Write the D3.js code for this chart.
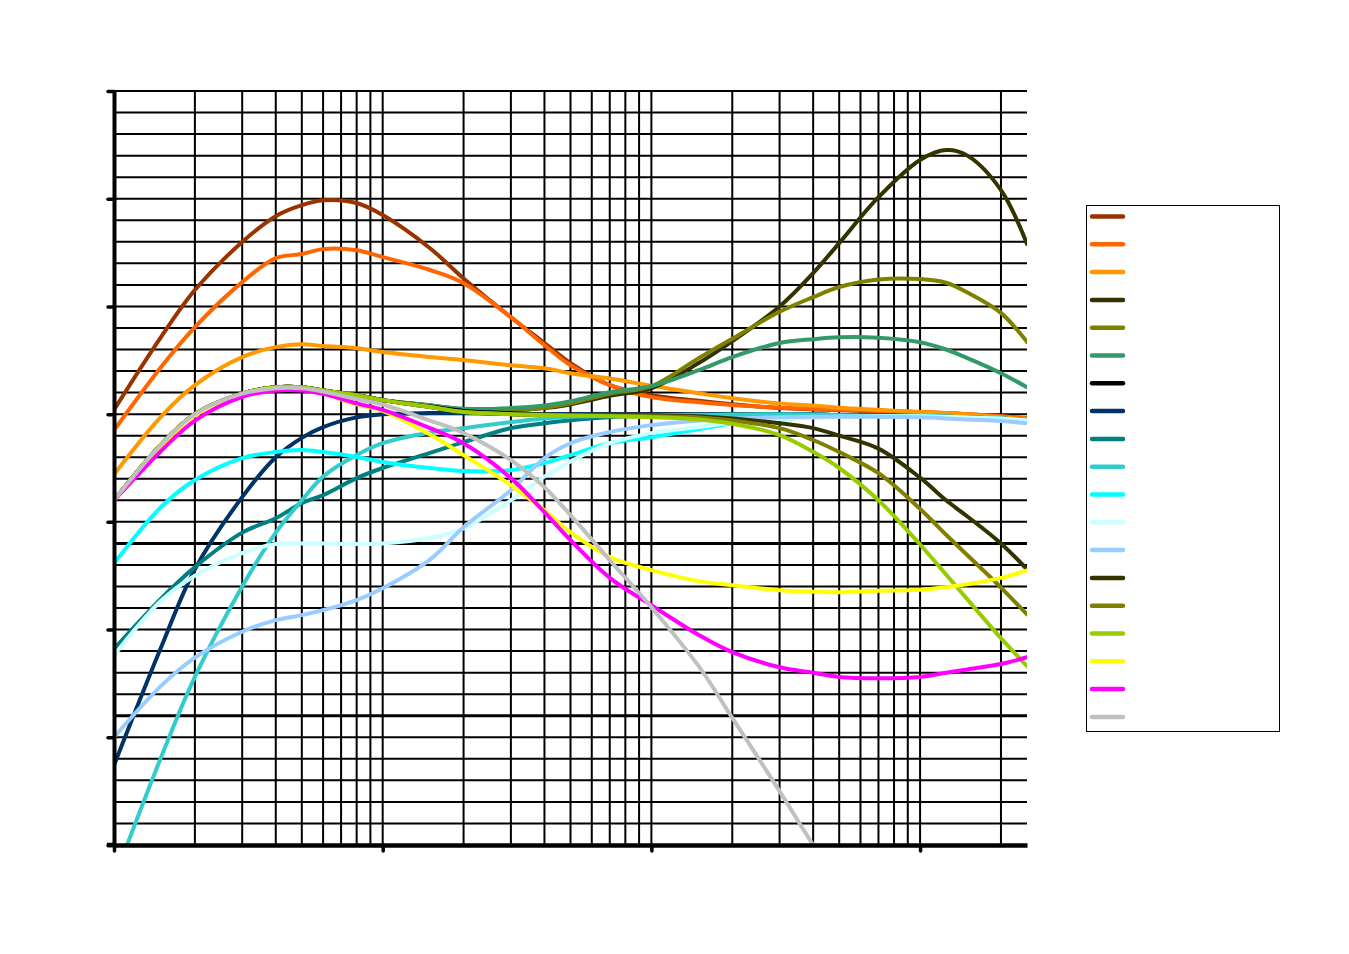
<!DOCTYPE html>
<html>
<head>
<meta charset="utf-8">
<script src="https://cdn.jsdelivr.net/npm/d3@7"></script>
<style>
  html, body { margin: 0; padding: 0; background: #fff; }
  svg { display: block; }
</style>
</head>
<body>
<script>
// ---- DATA (frequency in Hz, level in dB) ----
const freqs = [10, 15, 20, 30, 40, 50, 60, 80, 100, 150, 200, 300, 400, 500, 700, 1000, 1500, 2000, 3000, 4000, 5000, 7000, 10000, 12500, 15000, 20000, 25000];

const bassBoostMax  = [0.2, 3.6, 5.76, 7.99, 9.19, 9.7, 9.93, 9.8, 9.24, 7.7, 6.3, 4.5, 3.3, 2.37, 1.35, 0.88, 0.62, 0.46, 0.28, 0.22, 0.18, 0.14, 0.09, 0.05, 0.0, -0.1, -0.19];
const bassBoostMid  = [-0.75, 2.2, 4.04, 6.13, 7.24, 7.43, 7.66, 7.61, 7.29, 6.69, 6.08, 4.5, 3.2, 2.27, 1.35, 0.79, 0.55, 0.42, 0.3, 0.24, 0.2, 0.15, 0.1, 0.05, 0.0, -0.1, -0.19];
const bassBoostLow  = [-2.8, -0.1, 1.35, 2.65, 3.11, 3.25, 3.16, 3.06, 2.88, 2.65, 2.51, 2.27, 2.13, 1.9, 1.65, 1.32, 0.97, 0.74, 0.5, 0.4, 0.3, 0.2, 0.1, 0.05, -0.02, -0.15, -0.25];
const trebleBoostMax = [-4.0, -1.4, 0.0, 0.95, 1.25, 1.25, 1.1, 0.88, 0.65, 0.4, 0.22, 0.18, 0.28, 0.45, 0.85, 1.2, 2.37, 3.39, 5.0, 6.55, 7.94, 10.07, 11.8, 12.26, 12.0, 10.4, 7.9];
const trebleBoostMid = [-4.0, -1.4, 0.0, 0.95, 1.25, 1.25, 1.1, 0.88, 0.65, 0.4, 0.22, 0.18, 0.3, 0.5, 0.95, 1.3, 2.6, 3.5, 4.75, 5.43, 5.9, 6.25, 6.27, 6.1, 5.65, 4.7, 3.35];
const trebleBoostLow = [-4.0, -1.4, 0.0, 0.95, 1.25, 1.25, 1.1, 0.88, 0.65, 0.4, 0.25, 0.28, 0.4, 0.6, 1.02, 1.3, 2.04, 2.65, 3.3, 3.48, 3.57, 3.55, 3.34, 3.0, 2.6, 1.9, 1.25];
const flatSetting   = [-4.0, -1.4, 0.0, 0.95, 1.25, 1.25, 1.1, 0.88, 0.65, 0.35, 0.15, 0.05, 0.0, 0.0, 0.0, 0.0, 0.0, 0.0, 0.0, -0.02, -0.05, -0.08, -0.1, -0.12, -0.15, -0.2, -0.3];
const bassCutMax    = [-16.3, -10.8, -7.2, -3.85, -2.0, -1.1, -0.6, -0.15, 0.0, 0.05, 0.05, 0.02, 0.0, 0.0, 0.0, 0.0, 0.0, 0.0, 0.0, -0.02, -0.05, -0.08, -0.1, -0.12, -0.15, -0.2, -0.3];
const bassCutMid    = [-10.9, -8.55, -7.1, -5.5, -4.83, -4.13, -3.76, -2.97, -2.5, -1.8, -1.3, -0.65, -0.42, -0.28, -0.14, -0.08, -0.05, -0.03, 0.0, -0.02, -0.05, -0.08, -0.1, -0.12, -0.15, -0.2, -0.3];
const bassCutSteep  = [-21.6, -15.9, -12.2, -8.0, -5.5, -4.0, -2.9, -1.9, -1.35, -0.85, -0.65, -0.37, -0.2, -0.12, -0.08, -0.05, -0.03, -0.02, 0.0, -0.02, -0.05, -0.08, -0.1, -0.12, -0.15, -0.2, -0.3];
const midCutLow     = [-6.93, -4.3, -3.06, -2.04, -1.76, -1.67, -1.76, -1.99, -2.22, -2.5, -2.64, -2.6, -2.27, -1.9, -1.35, -1.07, -0.7, -0.42, -0.22, -0.15, -0.12, -0.1, -0.1, -0.12, -0.15, -0.2, -0.3];
const midCutMid     = [-11.2, -8.65, -7.5, -6.45, -6.03, -6.0, -6.0, -6.03, -6.0, -5.75, -5.3, -4.0, -2.9, -2.2, -1.35, -0.88, -0.6, -0.4, -0.22, -0.15, -0.12, -0.1, -0.1, -0.12, -0.15, -0.2, -0.3];
const midCutHigh    = [-15.0, -12.6, -11.3, -10.1, -9.56, -9.33, -9.1, -8.63, -8.08, -6.75, -5.25, -3.53, -2.04, -1.35, -0.83, -0.51, -0.3, -0.2, -0.15, -0.12, -0.12, -0.12, -0.15, -0.2, -0.25, -0.32, -0.42];
const trebleCutMax  = [-4.0, -1.4, 0.0, 0.95, 1.25, 1.25, 1.1, 0.88, 0.65, 0.33, 0.1, 0.0, -0.03, -0.05, -0.05, -0.05, -0.1, -0.2, -0.42, -0.65, -1.0, -1.6, -2.95, -4.0, -4.75, -6.0, -7.2];
const trebleCutMid  = [-4.0, -1.4, 0.0, 0.95, 1.25, 1.25, 1.1, 0.88, 0.65, 0.33, 0.1, 0.0, -0.03, -0.05, -0.07, -0.1, -0.15, -0.3, -0.65, -1.2, -1.76, -2.74, -4.4, -5.6, -6.55, -8.05, -9.3];
const trebleCutLow  = [-4.0, -1.4, 0.0, 0.95, 1.25, 1.25, 1.1, 0.88, 0.65, 0.33, 0.1, 0.0, -0.05, -0.07, -0.1, -0.14, -0.25, -0.45, -0.97, -1.75, -2.5, -4.0, -6.05, -7.45, -8.6, -10.4, -11.7];
const loPassA       = [-4.0, -1.45, -0.05, 0.92, 1.2, 1.15, 0.95, 0.45, 0.15, -0.95, -1.9, -3.3, -4.46, -5.48, -6.64, -7.24, -7.75, -7.94, -8.17, -8.25, -8.27, -8.2, -8.15, -8.03, -7.9, -7.6, -7.25];
const loPassB       = [-4.0, -1.7, -0.3, 0.8, 1.1, 1.1, 0.95, 0.5, 0.2, -0.65, -1.35, -2.97, -4.55, -5.85, -7.6, -8.87, -10.25, -11.05, -11.75, -12.0, -12.2, -12.26, -12.2, -12.0, -11.85, -11.6, -11.28];
const loPassC       = [-4.0, -1.4, 0.0, 0.95, 1.2, 1.2, 1.05, 0.7, 0.45, -0.3, -0.88, -2.13, -3.39, -4.69, -6.78, -8.96, -11.7, -14.1, -17.5, -20.0, -21.8, null, null, null, null, null, null];

const seriesValues = [bassBoostMax, bassBoostMid, bassBoostLow, trebleBoostMax, trebleBoostMid, trebleBoostLow,
  flatSetting, bassCutMax, bassCutMid, bassCutSteep, midCutLow, midCutMid, midCutHigh,
  trebleCutMax, trebleCutMid, trebleCutLow, loPassA, loPassB, loPassC];
const seriesColors = ["#993300", "#FF6600", "#FF9900", "#333300", "#808000", "#339966",
  "#000000", "#003366", "#008080", "#33CCCC", "#00FFFF", "#CCFFFF", "#99CCFF",
  "#333300", "#808000", "#99CC00", "#FFFF00", "#FF00FF", "#C0C0C0"];

const yMajorTicks = [-20, -15, -10, -5, 0, 5, 10, 15];
const xMajorTicks = [10, 100, 1000, 10000];

(function () {
  // ---- LAYOUT ----
  const W = 1349, H = 954;
  const pL = 114, pR = 1027, pT = 91, pB = 845;

  const svg = d3.select("body").append("svg").attr("width", W).attr("height", H);
  svg.append("rect").attr("width", W).attr("height", H).attr("fill", "#fff");

  const x = d3.scaleLog().domain([10, 25000]).range([pL, pR]);
  const y = d3.scaleLinear().domain([-20, 15]).range([pB, pT]);

  // gridlines
  const grid = svg.append("g");
  const yGrid = d3.range(-19, 16);
  grid.selectAll("line.hg").data(yGrid).join("line")
    .attr("x1", pL).attr("x2", pR)
    .attr("y1", d => y(d)).attr("y2", d => y(d))
    .attr("stroke", "#000")
    .attr("stroke-width", d => (d === -6 || d === -14) ? 3 : 2);

  const xGrid = x.ticks(40).filter(d => d > 10 && d <= 25000);
  grid.selectAll("line.vg").data(xGrid).join("line")
    .attr("x1", d => x(d)).attr("x2", d => x(d))
    .attr("y1", pT).attr("y2", pB)
    .attr("stroke", "#000").attr("stroke-width", 2);

  // series
  const defs = svg.append("defs");
  defs.append("clipPath").attr("id", "plotClip").append("rect")
    .attr("x", pL).attr("y", pT - 2).attr("width", pR - pL).attr("height", pB - pT + 2);

  const line = d3.line()
    .defined(d => d[1] !== null)
    .x(d => x(d[0])).y(d => y(d[1]))
    .curve(d3.curveCatmullRom.alpha(0.5));

  const curves = svg.append("g").attr("clip-path", "url(#plotClip)");
  seriesValues.forEach((vals, i) => {
    const pts = freqs.map((f, j) => [f, vals[j]]);
    curves.append("path")
      .attr("d", line(pts))
      .attr("fill", "none")
      .attr("stroke", seriesColors[i])
      .attr("stroke-width", 4)
      .attr("stroke-linejoin", "round")
      .attr("stroke-linecap", "round");
  });

  // axes
  const yAxis = d3.axisLeft(y).tickValues(yMajorTicks).tickSize(6).tickSizeOuter(0).tickFormat("");
  const gy = svg.append("g").attr("transform", `translate(${pL},0)`).call(yAxis);
  gy.select(".domain").attr("stroke", "#000").attr("stroke-width", 4);
  gy.selectAll(".tick line").attr("stroke", "#000").attr("stroke-width", 3.5).attr("stroke-linecap", "round");

  const xAxis = d3.axisBottom(x).tickValues(xMajorTicks).tickSize(6).tickSizeOuter(0).tickFormat("");
  const gx = svg.append("g").attr("transform", `translate(0,${pB})`).call(xAxis);
  gx.select(".domain").attr("stroke", "#000").attr("stroke-width", 4.5);
  gx.selectAll(".tick line").attr("stroke", "#000").attr("stroke-width", 3.5).attr("stroke-linecap", "round");
  svg.append("line").attr("x1", pL - 7).attr("x2", pL).attr("y1", pB).attr("y2", pB)
    .attr("stroke", "#000").attr("stroke-width", 4.5);

  // legend
  const legend = svg.append("g");
  legend.append("rect").attr("x", 1086.5).attr("y", 205.5).attr("width", 193).attr("height", 526)
    .attr("fill", "#fff").attr("stroke", "#000").attr("stroke-width", 1);
  legend.selectAll("line.lg").data(seriesColors).join("line")
    .attr("x1", 1092).attr("x2", 1123)
    .attr("y1", (d, i) => 216.5 + i * 27.8).attr("y2", (d, i) => 216.5 + i * 27.8)
    .attr("stroke", d => d).attr("stroke-width", 4.5).attr("stroke-linecap", "round");
})();
</script>
</body>
</html>
